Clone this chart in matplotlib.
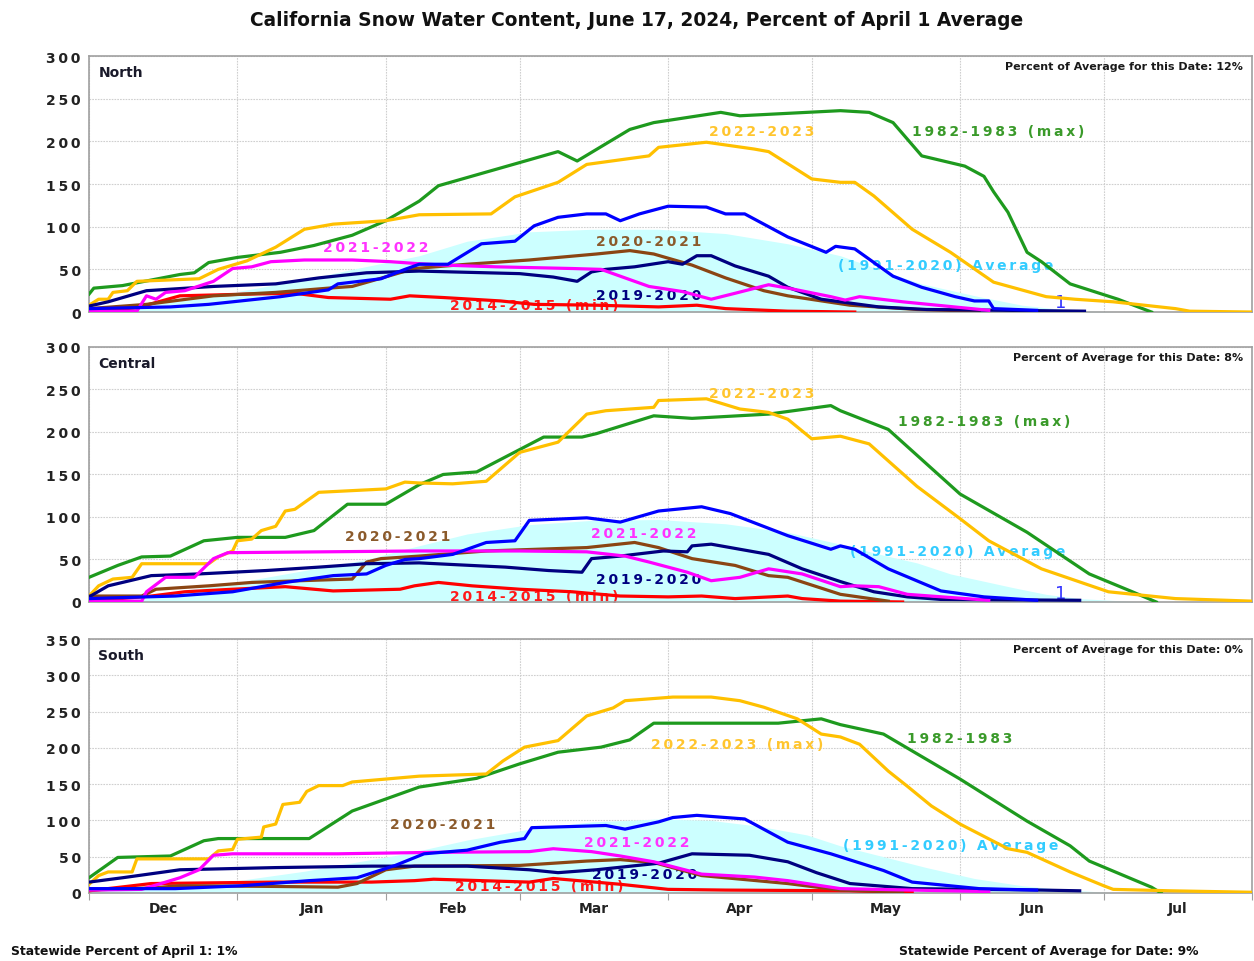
import numpy
from matplotlib import pyplot

# x axis is counted in days from Dec 1 (Dec 1 .. Jul 31)
MONTH_STARTS = [0, 31, 62, 90, 121, 151, 182, 212, 243]
MONTH_NAMES = ['Dec', 'Jan', 'Feb', 'Mar', 'Apr', 'May', 'Jun', 'Jul']

TITLE = 'California Snow Water Content, June 17, 2024, Percent of April 1 Average'
STATEWIDE_APRIL1 = 'Statewide Percent of April 1: 1%'
STATEWIDE_DATE = 'Statewide Percent of Average for Date: 9%'

REGIONS = ['North', 'Central', 'South']
REGION_PCT_OF_AVG = [12, 8, 0]
REGION_YMAX = [300, 300, 350]

# ---- North: (day, percent of April 1 average)
NORTH_1983 = [(0, 21), (1, 28), (7, 31), (19, 44), (22, 46), (25, 58), (31, 64), (40, 70), (47, 78),
              (55, 90), (62, 107), (69, 130), (73, 148), (98, 188), (102, 177), (113, 214), (118, 222),
              (132, 234), (136, 230), (157, 236), (163, 234), (168, 222), (174, 183), (183, 171),
              (187, 159), (189, 141), (192, 117), (196, 70), (199, 59), (205, 33), (215, 15), (222, 0)]
NORTH_2023 = [(0, 8), (2, 15), (4, 15), (5, 23), (8, 25), (10, 36), (23, 39), (27, 50), (33, 60),
              (39, 76), (45, 97), (51, 103), (62, 107), (69, 114), (84, 115), (89, 135), (98, 152),
              (104, 173), (117, 183), (119, 193), (129, 199), (139, 191), (142, 188), (151, 156),
              (157, 152), (160, 152), (164, 136), (172, 97), (180, 70), (189, 35), (200, 18), (206, 15),
              (214, 12), (227, 4), (230, 1), (243, 0)]
NORTH_2024 = [(0, 4), (17, 6), (25, 9), (40, 18), (50, 26), (52, 33), (61, 39), (66, 50), (69, 56),
              (75, 56), (82, 80), (89, 83), (93, 101), (98, 111), (104, 115), (108, 115), (111, 107),
              (115, 115), (121, 124), (129, 123), (133, 115), (137, 115), (146, 88), (154, 70),
              (156, 77), (160, 74), (168, 42), (174, 29), (181, 18), (185, 13), (188, 13), (189, 4),
              (198, 2)]
NORTH_2020 = [(0, 7), (4, 12), (12, 25), (26, 30), (39, 33), (48, 40), (58, 46), (69, 48), (90, 45),
              (97, 41), (102, 36), (105, 47), (108, 50), (114, 53), (121, 59), (124, 56), (127, 66),
              (130, 66), (135, 54), (142, 42), (146, 29), (153, 15), (157, 12), (165, 6), (175, 3),
              (208, 1)]
NORTH_2022 = [(0, 1), (10, 1), (12, 19), (14, 15), (16, 23), (20, 25), (26, 36), (30, 51), (34, 53),
              (38, 59), (45, 61), (55, 61), (63, 59), (68, 57), (74, 55), (85, 53), (101, 51), (107, 50),
              (112, 40), (117, 30), (124, 24), (130, 15), (135, 22), (142, 32), (147, 27), (155, 18),
              (158, 14), (161, 18), (170, 12), (188, 2)]
NORTH_2021 = [(0, 4), (12, 9), (26, 19), (39, 23), (50, 28), (55, 30), (60, 38), (68, 51), (79, 56),
              (92, 61), (106, 68), (113, 72), (118, 68), (126, 55), (133, 40), (141, 25), (146, 19),
              (159, 8), (173, 3), (186, 1)]
NORTH_2015 = [(0, 1), (10, 5), (19, 19), (33, 21), (43, 22), (50, 17), (63, 15), (67, 19), (74, 17),
              (86, 13), (93, 9), (106, 8), (119, 6), (127, 8), (133, 4), (146, 1), (160, 0)]
NORTH_AVG = [(0, 2), (10, 7), (20, 14), (31, 24), (45, 38), (55, 50), (62, 58), (69, 66), (79, 83),
             (92, 94), (105, 97), (119, 97), (133, 92), (146, 80), (157, 66), (166, 48), (174, 33),
             (186, 18), (195, 8), (205, 2), (215, 0)]

# ---- Central
CENTRAL_1983 = [(0, 29), (6, 43), (11, 53), (17, 54), (24, 72), (31, 76), (41, 76), (47, 84), (54, 115),
                (62, 115), (69, 138), (74, 150), (81, 153), (95, 194), (103, 194), (106, 198), (118, 219),
                (126, 216), (142, 221), (155, 231), (157, 225), (167, 203), (182, 127), (196, 82),
                (209, 33), (218, 12), (223, 0)]
CENTRAL_2023 = [(0, 7), (2, 19), (5, 27), (9, 29), (11, 45), (25, 45), (27, 53), (30, 60), (31, 72),
                (34, 74), (36, 84), (39, 89), (41, 107), (43, 109), (46, 121), (48, 129), (62, 133),
                (66, 141), (69, 140), (76, 139), (83, 142), (90, 176), (98, 188), (104, 221), (108, 225),
                (118, 229), (119, 237), (129, 239), (136, 227), (142, 223), (146, 215), (151, 192),
                (157, 195), (163, 186), (173, 136), (182, 98), (188, 72), (199, 39), (213, 12), (227, 4),
                (243, 1)]
CENTRAL_2024 = [(0, 4), (18, 7), (30, 12), (41, 23), (51, 31), (58, 33), (62, 43), (66, 50), (69, 51),
                (76, 56), (83, 70), (89, 72), (92, 96), (104, 99), (111, 94), (119, 107), (128, 112),
                (134, 104), (146, 78), (155, 62), (157, 66), (160, 62), (167, 39), (178, 13), (187, 6),
                (198, 2)]
CENTRAL_2020 = [(0, 6), (4, 19), (13, 31), (23, 33), (37, 37), (48, 41), (58, 45), (69, 46), (87, 41),
                (96, 37), (103, 35), (105, 51), (111, 54), (120, 60), (125, 59), (126, 66), (130, 68),
                (142, 56), (149, 39), (157, 24), (164, 12), (171, 6), (178, 3), (207, 2)]
CENTRAL_2022 = [(0, 1), (11, 1), (12, 12), (16, 29), (22, 29), (26, 51), (29, 58), (69, 60), (90, 60),
                (104, 59), (112, 54), (117, 47), (125, 35), (130, 25), (136, 29), (142, 39), (149, 33),
                (157, 18), (160, 19), (165, 18), (171, 9), (188, 2)]
CENTRAL_2021 = [(0, 7), (11, 7), (14, 15), (25, 19), (34, 23), (44, 25), (55, 27), (58, 47), (61, 51),
                (69, 54), (83, 60), (104, 64), (114, 70), (119, 64), (126, 51), (135, 43), (142, 31),
                (146, 29), (157, 9), (167, 1)]
CENTRAL_2015 = [(0, 1), (13, 7), (20, 12), (30, 15), (41, 18), (51, 13), (65, 15), (68, 19), (73, 23),
                (80, 19), (90, 15), (101, 12), (111, 7), (121, 6), (128, 7), (135, 4), (146, 7), (149, 4),
                (157, 1), (170, 0)]
CENTRAL_AVG = [(0, 2), (10, 7), (20, 14), (31, 23), (45, 37), (58, 50), (66, 62), (79, 80), (92, 91),
               (105, 96), (119, 97), (133, 92), (146, 82), (157, 68), (166, 55), (173, 46), (180, 33),
               (193, 17), (200, 9), (207, 4), (220, 0)]

# ---- South
SOUTH_1983 = [(0, 21), (6, 49), (17, 51), (24, 72), (27, 75), (46, 75), (55, 113), (69, 146), (81, 158),
              (90, 178), (98, 194), (107, 201), (113, 211), (118, 234), (144, 234), (153, 240),
              (157, 232), (166, 219), (182, 157), (196, 99), (205, 65), (209, 44), (222, 8), (224, 0)]
SOUTH_2023 = [(0, 12), (2, 24), (4, 29), (9, 29), (10, 47), (25, 47), (27, 58), (30, 60), (31, 74),
              (36, 77), (36.5, 91), (39, 95), (40.5, 122), (44, 125), (45.5, 140), (48, 148), (53, 148),
              (55, 153), (62, 157), (69, 161), (83, 164), (86.5, 182), (91, 201), (98, 210), (104, 244),
              (109.5, 255), (112, 265), (122, 270), (130, 270), (136, 265), (141, 256), (148, 240),
              (153, 219), (157, 215), (161, 205), (167, 168), (171, 147), (176, 120), (182, 95),
              (192, 61), (196, 56), (205, 29), (212, 10), (214, 5), (226, 3), (243, 1)]
SOUTH_2024 = [(0, 6), (18, 6), (32, 10), (46, 17), (56, 21), (64, 38), (70, 54), (79, 59), (86, 70),
              (91, 75), (92.5, 90), (108, 93), (112, 88), (119, 98), (122, 104), (127, 107), (133, 104),
              (137, 102), (146, 70), (155, 54), (166, 31), (172, 15), (186, 6), (198, 4)]
SOUTH_2020 = [(0, 15), (7, 21), (19, 32), (39, 35), (59, 37), (79, 37), (92, 32), (98, 28), (106, 32),
              (119, 41), (126, 54), (138, 52), (146, 43), (152, 28), (159, 13), (172, 6), (199, 4),
              (207, 3)]
SOUTH_2022 = [(0, 4), (11, 5), (19, 21), (23, 32), (26, 52), (30, 54), (52, 54), (72, 56), (92, 57),
              (97, 61), (105, 57), (111, 51), (118, 43), (128, 26), (139, 22), (146, 17), (157, 6),
              (172, 4), (188, 2)]
SOUTH_2021 = [(0, 4), (13, 7), (19, 10), (39, 9), (52, 8), (56, 13), (62, 32), (68, 37), (90, 38),
              (104, 44), (111, 46), (118, 42), (128, 24), (146, 13), (157, 4), (170, 1)]
SOUTH_2015 = [(0, 3), (13, 13), (39, 15), (59, 15), (68, 17), (72, 19), (92, 15), (97, 20), (111, 12),
              (121, 5), (133, 4), (159, 3), (172, 1)]
SOUTH_AVG = [(0, 2), (15, 8), (31, 17), (45, 30), (58, 45), (66, 54), (79, 73), (92, 88), (105, 98),
             (119, 102), (130, 100), (140, 92), (150, 80), (157, 65), (166, 50), (175, 35), (185, 20),
             (195, 10), (205, 4), (215, 0)]

SERIES = [
    {'1982-1983': NORTH_1983, '2022-2023': NORTH_2023, '2014-2015': NORTH_2015, '2020-2021': NORTH_2021,
     '2019-2020': NORTH_2020, '2021-2022': NORTH_2022, '2023-2024': NORTH_2024},
    {'1982-1983': CENTRAL_1983, '2022-2023': CENTRAL_2023, '2014-2015': CENTRAL_2015, '2020-2021': CENTRAL_2021,
     '2019-2020': CENTRAL_2020, '2021-2022': CENTRAL_2022, '2023-2024': CENTRAL_2024},
    {'1982-1983': SOUTH_1983, '2022-2023': SOUTH_2023, '2014-2015': SOUTH_2015, '2020-2021': SOUTH_2021,
     '2019-2020': SOUTH_2020, '2021-2022': SOUTH_2022, '2023-2024': SOUTH_2024},
]
AVERAGES = [NORTH_AVG, CENTRAL_AVG, SOUTH_AVG]

# ---- styles / layout
LINE_COLORS = {'1982-1983': '#1e9a1e', '2022-2023': '#ffc000', '2014-2015': '#ff0000',
               '2020-2021': '#8b4513', '2019-2020': '#000080', '2021-2022': '#ff00ff',
               '2023-2024': '#0000ff'}
LABEL_COLORS = {'1982-1983': '#3a9a2a', '2022-2023': '#ffc52e', '2014-2015': '#ff1a1a',
                '2020-2021': '#8b5a2b', '2019-2020': '#000080', '2021-2022': '#ff33ff',
                '2023-2024': '#3333ff', 'average': '#33ccff'}
AVERAGE_FILL = '#ccffff'
DRAW_ORDER = ['1982-1983', '2022-2023', '2014-2015', '2020-2021', '2019-2020', '2021-2022', '2023-2024']
GRID_COLOR = '#cfcfcf'
FRAME_COLOR = '#a0a0a0'
THIN = '\u2009'

# label text, day, value, colour key
LABELS = [
    [('2022-2023', 140.5, 212, '2022-2023'), ('1982-1983 (max)', 190, 212, '1982-1983'),
     ('2021-2022', 60, 76, '2021-2022'), ('2020-2021', 117, 83, '2020-2021'),
     ('(1991-2020) Average', 179, 55, 'average'), ('2019-2020', 117, 20, '2019-2020'),
     ('2014-2015 (min)', 93, 8, '2014-2015')],
    [('2022-2023', 140.5, 246, '2022-2023'), ('1982-1983 (max)', 187, 213, '1982-1983'),
     ('2020-2021', 64.5, 78, '2020-2021'), ('2021-2022', 116, 81, '2021-2022'),
     ('(1991-2020) Average', 181.5, 60, 'average'), ('2019-2020', 117, 27, '2019-2020'),
     ('2014-2015 (min)', 93, 7, '2014-2015')],
    [('2022-2023 (max)', 135.5, 205, '2022-2023'), ('1982-1983', 182, 214, '1982-1983'),
     ('2020-2021', 74, 95, '2020-2021'), ('2021-2022', 114.5, 70, '2021-2022'),
     ('(1991-2020) Average', 180, 66, 'average'), ('2019-2020', 116, 26, '2019-2020'),
     ('2014-2015 (min)', 94, 10, '2014-2015')],
]
CURRENT_MARK = [(203, 12), (203, 11), None]

AXES_LEFT = 0.071
AXES_WIDTH = 0.9274
AXES_ROWS = [(0.6746, 0.2661), (0.3732, 0.2651), (0.0707, 0.2640)]


def Spaced(text):
    return THIN.join(text)


def Split(pairs):
    arr = numpy.array(pairs, dtype=float)
    return arr[:, 0], arr[:, 1]


def PlotRegion(ax, idx, show_months):
    days, avg = Split(AVERAGES[idx])
    ax.fill_between(days, avg, 0, color=AVERAGE_FILL, lw=0, zorder=1)
    for key in DRAW_ORDER:
        d, v = Split(SERIES[idx][key])
        ax.plot(d, v, color=LINE_COLORS[key], lw=2.3, zorder=3, solid_joinstyle='round')
    for text, x, y, key in LABELS[idx]:
        ax.text(x, y, Spaced(text), color=LABEL_COLORS[key], fontsize=10, fontweight='bold',
                ha='center', va='center', zorder=2.5)
    if CURRENT_MARK[idx] is not None:
        x, y = CURRENT_MARK[idx]
        ax.text(x, y, '1', color=LABEL_COLORS['2023-2024'], fontsize=13, ha='center', va='center', zorder=2.5)

    ymax = REGION_YMAX[idx]
    ax.set_xlim(0, 243)
    ax.set_ylim(0, ymax)
    yticks = numpy.arange(0, ymax + 1, 50)
    ax.set_yticks(yticks)
    ax.set_yticklabels([Spaced(str(t)) for t in yticks], fontsize=10, fontweight='bold', color='#222222')
    ax.tick_params(axis='y', length=0, pad=6)
    ax.set_xticks(MONTH_STARTS)
    ax.grid(True, color=GRID_COLOR, linestyle=(0, (1.5, 1)), lw=0.8, zorder=0)
    ax.set_axisbelow(True)
    centers = [(MONTH_STARTS[i] + MONTH_STARTS[i + 1]) / 2 for i in range(len(MONTH_NAMES))]
    if show_months:
        ax.set_xticklabels([])
        ax.set_xticks(centers, minor=True)
        ax.set_xticklabels(MONTH_NAMES, minor=True, fontsize=10, fontweight='bold', color='#222222')
        ax.tick_params(axis='x', which='major', length=5, color=FRAME_COLOR)
        ax.tick_params(axis='x', which='minor', length=0, pad=6)
    else:
        ax.set_xticklabels([])
        ax.tick_params(axis='x', length=0)
    for spine in ax.spines.values():
        spine.set_color(FRAME_COLOR)
        spine.set_linewidth(1.2)

    ax.text(0.008, 0.965, REGIONS[idx], transform=ax.transAxes, fontsize=10, fontweight='bold',
            color='#1a1a2a', ha='left', va='top', zorder=4)
    ax.text(0.992, 0.96, 'Percent of Average for this Date: %d%%' % REGION_PCT_OF_AVG[idx],
            transform=ax.transAxes, fontsize=8, fontweight='bold', color='#1a1a1a',
            ha='right', va='center', zorder=4)


fig = pyplot.figure(figsize=(12.54, 9.62), dpi=100)
for idx, (bottom, height) in enumerate(AXES_ROWS):
    ax = fig.add_axes([AXES_LEFT, bottom, AXES_WIDTH, height])
    PlotRegion(ax, idx, idx == len(AXES_ROWS) - 1)

fig.text(0.508, 0.979, TITLE, fontsize=13.4, fontweight='bold', ha='center', va='center', color='#111111')
fig.text(0.009, 0.0104, STATEWIDE_APRIL1, fontsize=8.9, fontweight='bold', ha='left', va='center', color='#111111')
fig.text(0.956, 0.0104, STATEWIDE_DATE, fontsize=8.9, fontweight='bold', ha='right', va='center', color='#111111')

fig.savefig('out.png', dpi=100)
